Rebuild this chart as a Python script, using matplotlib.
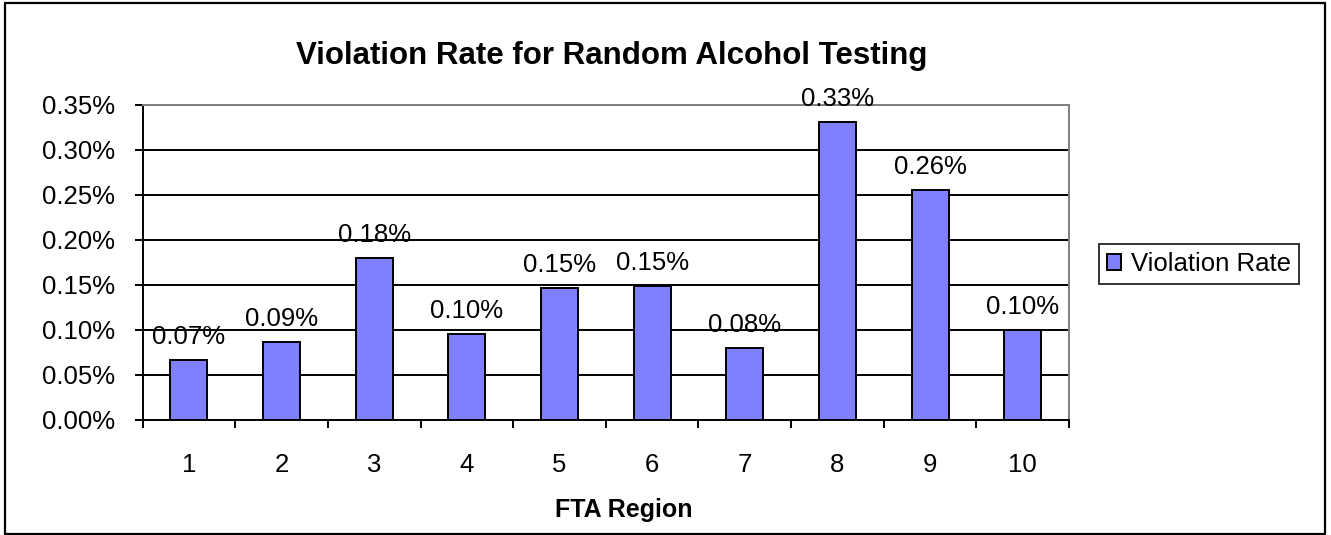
import matplotlib
matplotlib.use("Agg")
import matplotlib.pyplot as plt
from matplotlib.patches import Rectangle
from matplotlib.ticker import FuncFormatter, FixedLocator

plt.rcParams['font.family'] = ['Liberation Sans', 'DejaVu Sans']

# data
regions = ['1', '2', '3', '4', '5', '6', '7', '8', '9', '10']
violation_rate = [0.067, 0.087, 0.180, 0.096, 0.147, 0.149, 0.080, 0.331, 0.256, 0.100]  # percent
y_ticks = [0.00, 0.05, 0.10, 0.15, 0.20, 0.25, 0.30, 0.35]

BAR_COLOR = '#8080FF'
FS = 18.5

fig = plt.figure(figsize=(13.31, 5.35), dpi=100)
ax = fig.add_axes([0.1071, 0.2150, 0.6961, 0.5888])

pos = list(range(len(regions)))
bars = ax.bar(pos, violation_rate, width=0.4, color=BAR_COLOR,
              edgecolor='black', linewidth=1.4, zorder=3, label='Violation Rate')

for x, v in zip(pos, violation_rate):
    ax.annotate(f'{v:.2f}%', xy=(x, v), xytext=(0, 11.5), textcoords='offset points',
                ha='center', va='baseline', fontsize=FS, zorder=4)

ax.set_xlim(-0.5, len(regions) - 0.5)
ax.set_ylim(0, 0.35)
ax.set_yticks(y_ticks)
ax.yaxis.set_major_formatter(FuncFormatter(lambda v, p: f'{v:.2f}%'))
ax.yaxis.grid(True, color='black', linewidth=1.4, zorder=0)
ax.set_axisbelow(True)

ax.set_xticks(pos)
ax.set_xticklabels(regions)
ax.xaxis.set_minor_locator(FixedLocator([p - 0.5 for p in range(len(regions) + 1)]))
ax.tick_params(axis='x', which='major', length=0, pad=24, labelsize=FS)
ax.tick_params(axis='x', which='minor', length=5.5, width=1.4, direction='out')
ax.tick_params(axis='y', length=5.5, width=1.4, pad=14, labelsize=FS)

for side in ['left', 'bottom']:
    ax.spines[side].set_color('black')
    ax.spines[side].set_linewidth(1.4)
for side in ['top', 'right']:
    ax.spines[side].set_color('#808080')
    ax.spines[side].set_linewidth(1.4)

fig.text(612 / 1331, 1 - 64.3 / 535, 'Violation Rate for Random Alcohol Testing',
         ha='center', va='baseline', fontsize=22.5, fontweight='bold')
fig.text(624 / 1331, 1 - 516.7 / 535, 'FTA Region',
         ha='center', va='baseline', fontsize=18, fontweight='bold')

leg = fig.legend(handles=[bars], labels=['Violation Rate'], loc='center left',
                 bbox_to_anchor=(1099 / 1331, 1 - 264 / 535), fontsize=FS,
                 frameon=True, fancybox=False, edgecolor='black', handlelength=0.55,
                 handleheight=0.6, handletextpad=0.4, borderpad=0.3, borderaxespad=0)
leg.get_frame().set_linewidth(1.4)

# chart area border
fig.patches.append(Rectangle((5 / 1331, 1 - 534 / 535), 1320 / 1331, 531 / 535,
                             transform=fig.transFigure, fill=False,
                             edgecolor='black', linewidth=1.6))

fig.savefig('out.png', dpi=100)
